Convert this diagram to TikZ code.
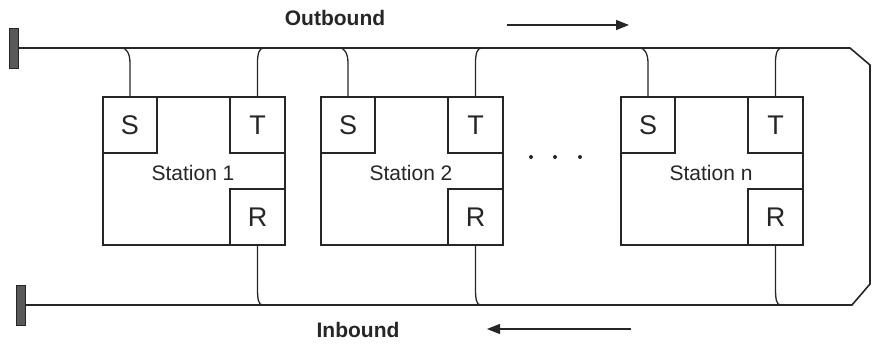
\documentclass[tikz,border=0pt]{standalone}
\usepackage{fontspec}
\setmainfont{Liberation Sans}
\usetikzlibrary{arrows.meta,calc}
\begin{document}
\begin{tikzpicture}[x=1pt,y=-1pt,
  bus/.style={line width=1.6pt,draw=black!85,line join=miter},
  conn/.style={line width=1.3pt,draw=black!85},
  box/.style={draw=black!85,line width=1.2pt,rectangle,inner sep=0pt,outer sep=0pt},
  sub/.style={box,minimum width=55pt,minimum height=56pt,font=\fontsize{27}{30}\selectfont,text=black!85},
  station/.style={box,minimum width=182pt,minimum height=148pt,anchor=north west},
  lbl/.style={font=\fontsize{21}{24}\selectfont,text=black!85},
  title/.style={font=\bfseries\fontsize{21}{24}\selectfont,text=black!85},
  term/.style={draw=black!85,fill=black!65,line width=0.8pt,minimum width=9pt,minimum height=40pt,inner sep=0pt,outer sep=0pt},
  flow/.style={line width=1.2pt,draw=black!85,-{Triangle[length=13pt,width=10pt]}},
  dotn/.style={circle,fill=black!85,inner sep=0pt,minimum size=4pt}
]
\useasboundingbox (0,0) rectangle (872,345);

% terminators and bus
\node[term] (termt) at (14,48) {};
\node[term] (termb) at (21,305) {};
\coordinate (tr) at (850,48);
\coordinate (rc1) at (870,65);
\coordinate (rc2) at (870,284);
\coordinate (br) at (852,305);
\draw[bus] (termt.east) -- (tr) -- (rc1) -- (rc2) -- (br) -- (termb.east);

% stations
\foreach \i/\x/\lab in {1/103/Station 1,2/321/Station 2,n/621/Station n}{
  \node[station] (st\i) at (\x,97) {};
  \node[sub,minimum width=54pt,anchor=north west] (s\i) at (st\i.north west) {S};
  \node[sub,anchor=north east] (t\i) at (st\i.north east) {T};
  \node[sub,anchor=south east] (r\i) at (st\i.south east) {R};
  \node[lbl] (l\i) at ($(st\i.north)+(-1,76)$) {\lab};
  \coordinate (bs\i) at ($(s\i.north |- tr)+(-8,0)$);
  \coordinate (bt\i) at ($(t\i.north |- tr)+(6,0)$);
  \coordinate (br\i) at ($(r\i.south |- br)+(5,0)$);
  \draw[conn] (s\i.north) -- ++(0,-34) .. controls +(0,-10) and +(4,0) .. (bs\i);
  \draw[conn] (t\i.north) -- ++(0,-34) .. controls +(0,-10) and +(-4,0) .. (bt\i);
  \draw[conn] (r\i.south) -- ++(0,44) .. controls +(0,10) and +(-4,0) .. (br\i);
}

% ellipsis
\node[dotn] (d1) at (531,157) {};
\node[dotn] (d2) at (555,157) {};
\node[dotn] (d3) at (580,157) {};

% direction labels
\node[title] (outb) at (335,18) {Outbound};
\coordinate (oa1) at (507,25);
\coordinate (oa2) at (629,25);
\draw[flow] (oa1) -- (oa2);
\node[title] (inb) at (358,330) {Inbound};
\coordinate (ia1) at (631,329);
\coordinate (ia2) at (487,329);
\draw[flow] (ia1) -- (ia2);
\end{tikzpicture}
\end{document}
